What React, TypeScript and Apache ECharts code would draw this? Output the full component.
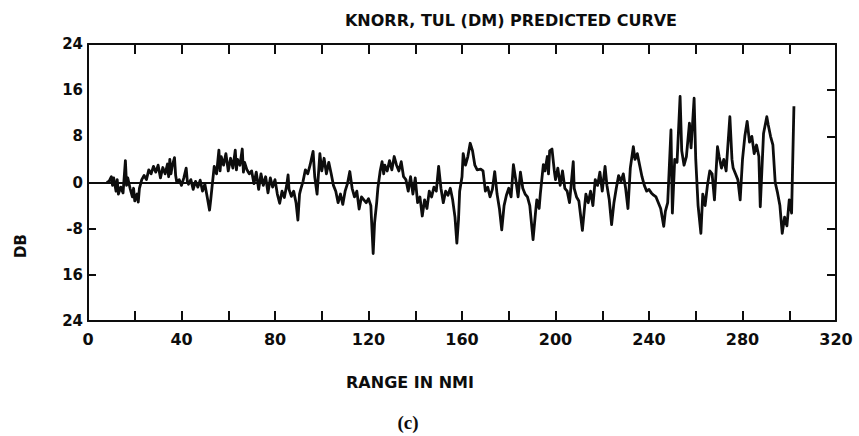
import React, { useEffect, useRef } from "react";
import * as echarts from "echarts";

const chartTitle = "KNORR, TUL (DM) PREDICTED CURVE";
const xAxisTitle = "RANGE IN NMI";
const yAxisTitle = "DB";
const panelTag = "(c)";

const xTickValues = [0, 40, 80, 120, 160, 200, 240, 280, 320];
const yTickValues = [24, 16, 8, 0, -8, -16, -24];
const yTickText = ["24", "16", "8", "0", "-8", "16", "24"];

const rangeNmi = [
  8, 9, 10, 10.5, 11, 12, 12.5, 13, 14, 15, 16, 16.5, 17, 18, 19, 19.5, 20, 21, 21.5, 22,
  23, 24, 25, 26, 27, 28, 29, 30, 31, 32, 33, 34, 34.5, 35, 35.5, 36, 37, 37.5, 38, 39,
  40, 41, 42, 42.5, 43, 44, 45, 46, 47, 48, 49, 50, 51, 52, 52.5, 53, 54, 55, 56, 56.5,
  57, 58, 59, 60, 61, 62, 63, 63.5, 64, 65, 66, 66.5, 67, 68, 69, 70, 71, 72, 73, 74,
  75, 76, 77, 78, 79, 80, 81, 82, 83, 84, 85, 85.6, 86, 87, 88, 89, 89.8, 90.5, 91, 92,
  93, 94, 95, 96.3, 97, 98, 99.2, 100, 101, 102, 103, 104, 105, 106, 107, 108, 109, 110, 111, 112,
  113, 114, 115, 116, 117, 118, 119, 120, 121, 122, 122.6, 123.5, 124, 125, 125.8, 126.5, 127, 128, 129, 130,
  131, 132, 133, 134, 135, 136, 137, 138, 139, 140, 141, 142, 143, 144, 145, 146, 147, 148, 149, 150,
  151, 152, 153, 154, 155, 156, 157, 157.8, 158.5, 159, 160, 160.5, 161.5, 162.5, 163.5, 164.5, 165.5, 166.5, 168, 169,
  170, 171, 172, 173, 174, 175, 176, 177, 178, 179, 180, 181, 182, 183, 184, 185, 186, 187, 188, 189,
  190.4, 191.5, 192, 193, 193.5, 194.8, 195.5, 196.5, 197, 197.5, 198.5, 199.5, 200, 201, 202, 203, 204, 205, 206, 207.6,
  208, 209, 210, 211.5, 212.5, 213, 214, 215, 216, 217, 218, 219, 220, 221.2, 222, 223, 224, 225, 226, 227,
  228, 229, 230, 231, 232, 233.3, 234, 235, 236, 237, 238, 239, 240, 241, 242, 243, 244, 245, 246.3, 247,
  248, 249.4, 250, 251, 252, 253.3, 254, 255, 256, 257.3, 258, 259.3, 260, 261, 262.2, 263, 264, 265, 266, 267,
  268, 269.3, 270, 271, 272, 273, 274.6, 275.5, 276, 277, 278, 279, 280, 281, 282, 283, 284, 285, 286, 287,
  287.6, 288.5, 289, 290.4, 291, 292, 293, 294, 295, 296, 297, 298, 299, 300, 301, 302
];

const dbLevel = [
  0, 0.2, 1.0, -0.5, 0.8, -1.5, 0.5, -2.0, -0.8, -1.8, 3.8, -0.5, 0.8, -1.0, -2.5, -1.0, -3.2, -2.0, -3.4, -1.0,
  0.5, 1.2, 0.5, 2.2, 1.5, 2.8, 1.8, 3.0, 0.8, 2.6, 1.5, 3.2, 1.0, 4.0, 1.5, 2.8, 4.3, 1.2, 0.0, 0.5,
  -0.5, 0.8, 2.5, 0.2, -0.3, 0.5, -1.2, 0.2, -0.8, 0.4, -1.5, -0.3, -2.5, -4.8, -3.0, -1.0, 2.8, 1.5, 5.6, 2.0,
  4.5, 3.0, 5.0, 2.0, 4.2, 2.5, 5.6, 2.2, 4.0, 3.0, 5.8, 1.8, 3.5, 2.2, 1.5, 2.0, -0.2, 1.8, -1.2, 1.5,
  -0.5, 1.0, -1.8, 0.8, -0.8, 0.5, -2.0, -3.6, -1.5, -2.6, -0.5, 1.3, -1.2, -2.4, -1.5, -3.5, -6.5, -2.0, -1.2, 0.2,
  2.2, 1.5, 3.0, 5.4, 1.0, -2.0, 5.0, 2.0, 4.2, 1.5, 3.5, 1.6, -0.5, -1.5, -3.5, -2.0, -3.8, -1.5, -0.2, 1.9,
  -1.0, -2.5, -1.5, -4.6, -2.5, -3.0, -3.5, -2.8, -4.0, -12.3, -7.0, -3.5, -1.0, 2.0, 3.6, 1.5, 3.0, 2.0, 3.8, 2.2,
  4.5, 3.0, 2.0, 3.6, 1.0, 0.5, -1.5, 1.0, -2.0, 0.8, -3.5, -2.5, -5.8, -3.0, -4.5, -1.5, -2.5, -0.8, -1.5, 2.8,
  -1.0, -3.5, -1.5, -2.2, -1.0, -3.0, -6.0, -10.5, -6.5, -1.5, 1.0, 5.0, 3.0, 4.5, 6.8, 5.5, 3.0, 2.2, 2.3, 2.0,
  -1.5, -0.8, -2.5, -1.2, 1.9, -2.0, -4.5, -8.2, -4.0, -2.2, -1.0, -2.5, 3.1, 0.5, -2.5, 1.8, -1.0, -2.0, -2.5, -4.0,
  -9.9, -5.0, -3.0, -4.5, -2.0, 3.1, 2.0, 4.5, 1.5, 5.5, 5.8, 2.0, 0.5, 2.5, -0.5, 2.0, -1.0, -1.5, -3.5, 3.6,
  -1.0, -2.5, -3.2, -8.3, -4.0, -2.0, -3.5, -1.5, -4.0, 0.5, -0.5, 1.8, -1.5, 2.8, -0.5, -3.0, -7.3, -3.5, -1.0, 1.2,
  0.2, 1.5, -1.0, -4.5, 2.5, 6.2, 4.0, 5.0, 3.0, 1.0, -0.5, -1.5, -1.2, -1.8, -2.2, -2.5, -3.5, -4.5, -7.6, -5.0,
  -3.5, 9.1, -5.3, 4.0, 3.5, 14.9, 5.5, 3.0, 4.5, 10.3, 6.0, 14.6, 4.0, -4.0, -8.8, -2.0, -4.0, -0.5, 2.0, 1.5,
  -3.0, 6.2, 4.5, 2.5, 4.0, 2.0, 11.4, 4.0, 2.5, 1.5, 0.5, -3.0, 4.0, 8.0, 10.6, 7.0, 8.0, 5.0, 6.5, 4.5,
  -4.2, 4.0, 8.5, 11.4, 10.0, 8.0, 6.5, 0.0, -1.8, -4.0, -8.8, -6.0, -7.5, -3.0, -5.3, 13.2
];

const INK = "#0d0d0d";
const SANS = '"DejaVu Sans", sans-serif';

export default function App() {
  const ref = useRef<HTMLDivElement>(null);

  useEffect(() => {
    if (!ref.current) return;
    const chart = echarts.init(ref.current, undefined, { renderer: "svg" });
    const points = rangeNmi.map((x, i) => [x, dbLevel[i]]);
    const yLabel = (v: number) => {
      const idx = yTickValues.indexOf(v);
      return idx >= 0 ? yTickText[idx] : "";
    };
    const xLabel = (v: number) => (xTickValues.indexOf(v) >= 0 ? String(v) : "");

    chart.setOption({
      animation: false,
      backgroundColor: "#ffffff",
      grid: { left: 88, right: 23, top: 44, bottom: 115 },
      xAxis: [
        {
          type: "value",
          min: 0,
          max: 320,
          interval: 20,
          position: "bottom",
          axisLine: { show: true, onZero: false, lineStyle: { color: INK, width: 2 } },
          axisTick: { show: true, inside: true, length: 10, lineStyle: { color: INK, width: 2 } },
          axisLabel: {
            formatter: xLabel,
            color: INK,
            fontFamily: "DejaVu Sans",
            fontWeight: "bold",
            fontSize: 16,
            margin: 10,
            showMinLabel: true,
            showMaxLabel: true,
          },
          splitLine: { show: false },
        },
        {
          type: "value",
          min: 0,
          max: 320,
          interval: 20,
          position: "top",
          axisLine: { show: true, onZero: false, lineStyle: { color: INK, width: 2 } },
          axisTick: { show: true, inside: true, length: 10, lineStyle: { color: INK, width: 2 } },
          axisLabel: { show: false },
          splitLine: { show: false },
        },
      ],
      yAxis: [
        {
          type: "value",
          min: -24,
          max: 24,
          interval: 8,
          position: "left",
          axisLine: { show: true, onZero: false, lineStyle: { color: INK, width: 2 } },
          axisTick: {
            show: true,
            inside: true,
            length: 8,
            customValues: [-16, -8],
            lineStyle: { color: INK, width: 2 },
          },
          axisLabel: {
            formatter: yLabel,
            color: INK,
            fontFamily: "DejaVu Sans",
            fontWeight: "bold",
            fontSize: 15,
            margin: 5,
          },
          splitLine: { show: false },
        },
        {
          type: "value",
          min: -24,
          max: 24,
          interval: 8,
          position: "right",
          axisLine: { show: true, onZero: false, lineStyle: { color: INK, width: 2 } },
          axisTick: {
            show: true,
            inside: true,
            length: 9,
            customValues: [-16, -8, 8, 16],
            lineStyle: { color: INK, width: 2 },
          },
          axisLabel: { show: false },
          splitLine: { show: false },
        },
      ],
      series: [
        {
          type: "line",
          data: points,
          xAxisIndex: 0,
          yAxisIndex: 0,
          showSymbol: false,
          symbol: "none",
          lineStyle: { color: INK, width: 2.8, join: "round" },
          markLine: {
            silent: true,
            symbol: "none",
            label: { show: false },
            lineStyle: { color: INK, width: 2, type: "solid" },
            data: [{ yAxis: 0 }],
          },
        },
      ],
      graphic: [
        {
          type: "text",
          x: 511,
          y: 20,
          style: {
            text: chartTitle,
            font: `bold 16px ${SANS}`,
            fill: INK,
            align: "center",
            verticalAlign: "middle",
          },
        },
        {
          type: "text",
          x: 410,
          y: 382,
          style: {
            text: xAxisTitle,
            font: `bold 16px ${SANS}`,
            fill: INK,
            align: "center",
            verticalAlign: "middle",
          },
        },
        {
          type: "text",
          x: 20.5,
          y: 246,
          rotation: Math.PI / 2,
          style: {
            text: yAxisTitle,
            font: `bold 15px ${SANS}`,
            fill: INK,
            align: "center",
            verticalAlign: "middle",
          },
        },
        {
          type: "text",
          x: 408,
          y: 422,
          style: {
            text: panelTag,
            font: 'bold 19px "Liberation Serif", serif',
            fill: INK,
            align: "center",
            verticalAlign: "middle",
          },
        },
      ],
    });

    return () => chart.dispose();
  }, []);

  return (
    <div
      ref={ref}
      style={{ width: 859, height: 436, position: "absolute", left: 0, top: 0 }}
    />
  );
}
